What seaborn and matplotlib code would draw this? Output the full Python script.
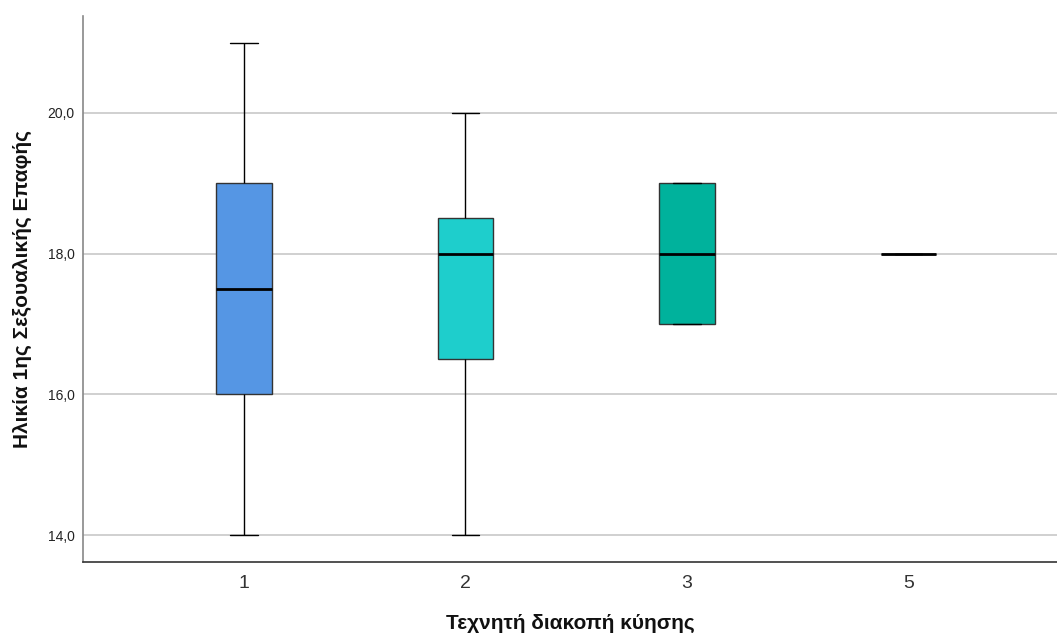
import numpy as np
import pandas as pd
import matplotlib.pyplot as plt
import seaborn as sns

# values per group of "Τεχνητή διακοπή κύησης"
groups = ["1", "2", "3", "5"]
ages_1 = [14, 16, 16, 17.5, 19, 19, 21]
ages_2 = [14, 16.5, 16.5, 18, 18.5, 18.5, 20]
ages_3 = [17, 17, 18, 19, 19]
ages_5 = [18]
colors = ["#5596E4", "#1ECECC", "#00B29C", "#00B29C"]

yticks = [14, 16, 18, 20]

rows = []
for g, vals in zip(groups, [ages_1, ages_2, ages_3, ages_5]):
    for v in vals:
        rows.append((g, v))
df = pd.DataFrame(rows, columns=["group", "age"])

sns.set_style("white")
plt.rcParams['font.family'] = ['Liberation Sans', 'DejaVu Sans']

fig = plt.figure(figsize=(10.57, 6.37), dpi=100)
ax = fig.add_axes([0.0785, 0.1177, 0.9215, 0.8573])

for y in yticks:
    ax.axhline(y, color="#c8c8c8", lw=1.2, zorder=0)

sns.boxplot(data=df, x="group", y="age", hue="group", order=groups,
            palette=dict(zip(groups, colors)), legend=False, width=0.25,
            saturation=1, linecolor="black", linewidth=1, ax=ax,
            boxprops=dict(edgecolor="#333333"),
            medianprops=dict(lw=2, color="black"))

ax.set_xlim(-0.726, 3.67)
ax.set_ylim(13.616, 21.38)
ax.set_yticks(yticks)
ax.set_yticklabels([f"{y:.1f}".replace(".", ",") for y in yticks],
                   fontsize=10, color="#222222")
ax.tick_params(axis="x", labelsize=14, colors="#333333", length=0, pad=9)
ax.tick_params(axis="y", length=0, pad=6)

for side in ["top", "right"]:
    ax.spines[side].set_visible(False)
ax.spines["left"].set_color("#888888")
ax.spines["bottom"].set_color("#333333")
ax.spines["left"].set_linewidth(1.2)
ax.spines["bottom"].set_linewidth(1.2)

ax.set_xlabel("Τεχνητή διακοπή κύησης", fontsize=15, fontweight="bold",
              color="#111111", labelpad=16.5)
ax.set_ylabel("Ηλικία 1ης Σεξουαλικής Επαφής", fontsize=15,
              fontweight="bold", color="#111111", labelpad=11)

fig.savefig("out.png", dpi=100)
